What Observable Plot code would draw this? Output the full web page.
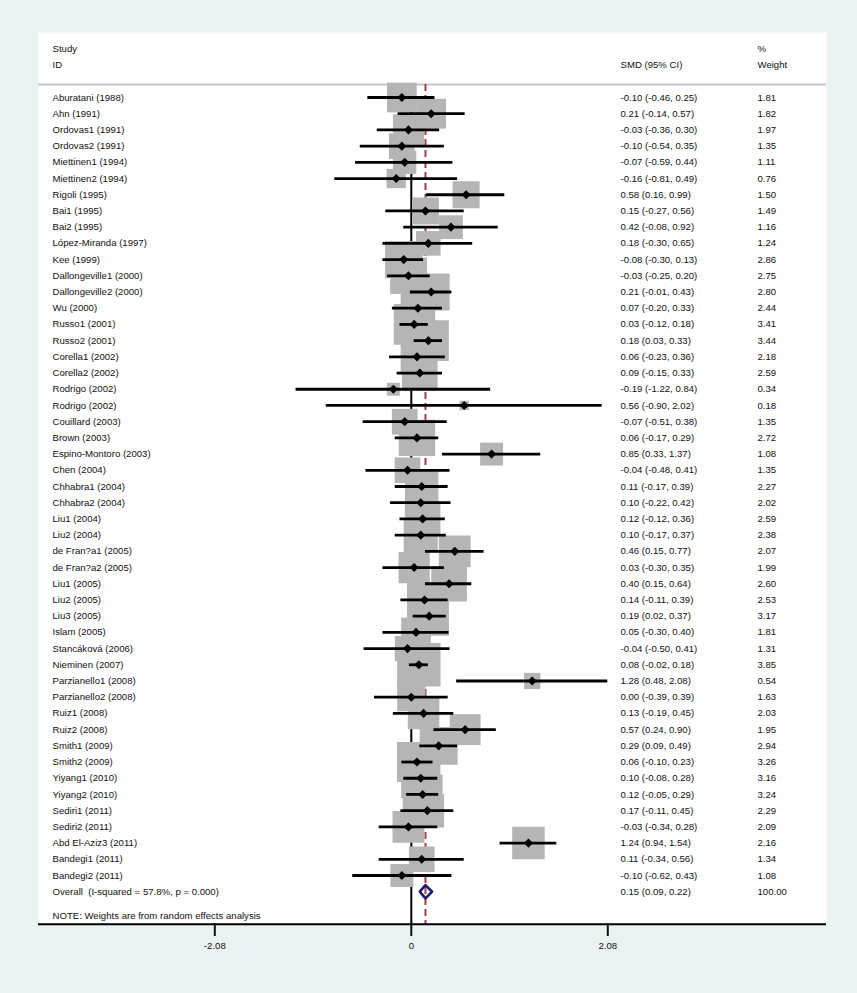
<!DOCTYPE html>
<html>
<head>
<meta charset="utf-8">
<script src="https://cdn.jsdelivr.net/npm/d3@7"></script>
<script src="https://cdn.jsdelivr.net/npm/@observablehq/plot@0.6"></script>
<style>
  html, body { margin: 0; padding: 0; background: #eaf2f2; }
  #chart svg { display: block; }
</style>
</head>
<body>
<div id="chart"></div>
<script>
const studies = [
  "Aburatani (1988)", "Ahn (1991)", "Ordovas1 (1991)", "Ordovas2 (1991)", "Miettinen1 (1994)",
  "Miettinen2 (1994)", "Rigoli (1995)", "Bai1 (1995)", "Bai2 (1995)", "López-Miranda (1997)",
  "Kee (1999)", "Dallongeville1 (2000)", "Dallongeville2 (2000)", "Wu (2000)", "Russo1 (2001)",
  "Russo2 (2001)", "Corella1 (2002)", "Corella2 (2002)", "Rodrigo (2002)", "Rodrigo (2002)",
  "Couillard (2003)", "Brown (2003)", "Espino-Montoro (2003)", "Chen (2004)", "Chhabra1 (2004)",
  "Chhabra2 (2004)", "Liu1 (2004)", "Liu2 (2004)", "de Fran?a1 (2005)", "de Fran?a2 (2005)",
  "Liu1 (2005)", "Liu2 (2005)", "Liu3 (2005)", "Islam (2005)", "Stancáková (2006)",
  "Nieminen (2007)", "Parzianello1 (2008)", "Parzianello2 (2008)", "Ruiz1 (2008)", "Ruiz2 (2008)",
  "Smith1 (2009)", "Smith2 (2009)", "Yiyang1 (2010)", "Yiyang2 (2010)", "Sediri1 (2011)",
  "Sediri2 (2011)", "Abd El-Aziz3 (2011)", "Bandegi1 (2011)", "Bandegi2 (2011)"
];
const smd = [
  -0.10, 0.21, -0.03, -0.10, -0.07, -0.16, 0.58, 0.15, 0.42, 0.18,
  -0.08, -0.03, 0.21, 0.07, 0.03, 0.18, 0.06, 0.09, -0.19, 0.56,
  -0.07, 0.06, 0.85, -0.04, 0.11, 0.10, 0.12, 0.10, 0.46, 0.03,
  0.40, 0.14, 0.19, 0.05, -0.04, 0.08, 1.28, 0.00, 0.13, 0.57,
  0.29, 0.06, 0.10, 0.12, 0.17, -0.03, 1.24, 0.11, -0.10
];
const ciLow = [
  -0.46, -0.14, -0.36, -0.54, -0.59, -0.81, 0.16, -0.27, -0.08, -0.30,
  -0.30, -0.25, -0.01, -0.20, -0.12, 0.03, -0.23, -0.15, -1.22, -0.90,
  -0.51, -0.17, 0.33, -0.48, -0.17, -0.22, -0.12, -0.17, 0.15, -0.30,
  0.15, -0.11, 0.02, -0.30, -0.50, -0.02, 0.48, -0.39, -0.19, 0.24,
  0.09, -0.10, -0.08, -0.05, -0.11, -0.34, 0.94, -0.34, -0.62
];
const ciHigh = [
  0.25, 0.57, 0.30, 0.35, 0.44, 0.49, 0.99, 0.56, 0.92, 0.65,
  0.13, 0.20, 0.43, 0.33, 0.18, 0.33, 0.36, 0.33, 0.84, 2.02,
  0.38, 0.29, 1.37, 0.41, 0.39, 0.42, 0.36, 0.37, 0.77, 0.35,
  0.64, 0.39, 0.37, 0.40, 0.41, 0.18, 2.08, 0.39, 0.45, 0.90,
  0.49, 0.23, 0.28, 0.29, 0.45, 0.28, 1.54, 0.56, 0.43
];
const weights = [
  1.81, 1.82, 1.97, 1.35, 1.11, 0.76, 1.50, 1.49, 1.16, 1.24,
  2.86, 2.75, 2.80, 2.44, 3.41, 3.44, 2.18, 2.59, 0.34, 0.18,
  1.35, 2.72, 1.08, 1.35, 2.27, 2.02, 2.59, 2.38, 2.07, 1.99,
  2.60, 2.53, 3.17, 1.81, 1.31, 3.85, 0.54, 1.63, 2.03, 1.95,
  2.94, 3.26, 3.16, 3.24, 2.29, 2.09, 2.16, 1.34, 1.08
];
const overallLabel = "Overall\u00a0 (I-squared = 57.8%, p = 0.000)";
const overallSmd = 0.15, overallLow = 0.09, overallHigh = 0.22, overallWeight = 100.00;
const headerStudy = ["Study", "ID"];
const headerEst = ["", "SMD (95% CI)"];
const headerWeight = ["%", "Weight"];
const noteText = "NOTE: Weights are from random effects analysis";
const xTicks = [-2.08, 0, 2.08];

const fmt = v => v.toFixed(2);
const rows = studies.map((s, i) => ({
  i, study: s, est: smd[i], lo: ciLow[i], hi: ciHigh[i], w: weights[i],
  estText: `${fmt(smd[i])} (${fmt(ciLow[i])}, ${fmt(ciHigh[i])})`,
  wText: fmt(weights[i])
}));
const nRows = rows.length;
const overallRow = nRows;
const overall = {
  i: overallRow, study: overallLabel, est: overallSmd, lo: overallLow, hi: overallHigh,
  estText: `${fmt(overallSmd)} (${fmt(overallLow)}, ${fmt(overallHigh)})`,
  wText: fmt(overallWeight)
};
const textRows = [...rows, overall];
const headerRows = headerStudy.map((h, k) => ({row: -3 + k, study: h, est: headerEst[k], w: headerWeight[k]}));
const dh = 0.41;
const diamond = [
  {x: overall.lo, y: overallRow}, {x: overall.est, y: overallRow - dh},
  {x: overall.hi, y: overallRow}, {x: overall.est, y: overallRow + dh},
  {x: overall.lo, y: overallRow}
];
const topRow = -0.8, bottomRow = overallRow + 2;

const FS = 9.6;
const textCol = "#111";

const chart = Plot.plot({
  width: 857,
  height: 993,
  marginLeft: 38,
  marginRight: 31,
  marginTop: 32,
  marginBottom: 70,
  style: {background: "#eaf2f2", fontFamily: "'Liberation Sans', Arial, sans-serif", fontSize: FS + "px", color: "#111"},
  x: {domain: [-2.08, 2.08], range: [214.3, 607.3]},
  y: {domain: [0, nRows - 1], range: [97, 875], axis: null},
  r: {type: "sqrt", domain: [0, 4], range: [0, 24.94]},
  marks: [
    Plot.frame({fill: "white", stroke: "none"}),
    Plot.ruleY([topRow], {stroke: "#c3c3d3", strokeWidth: 2}),
    Plot.ruleX([0], {y1: topRow, y2: bottomRow, stroke: "black", strokeWidth: 2}),
    Plot.ruleX([overallSmd], {y1: topRow, y2: bottomRow, stroke: "#a23c4c", strokeWidth: 2, strokeDasharray: "7,4"}),
    Plot.dot(rows, {x: "est", y: "i", r: "w", symbol: "square", fill: "#b5b5b5"}),
    Plot.ruleY(rows, {y: "i", x1: "lo", x2: "hi", stroke: "black", strokeWidth: 2.8}),
    Plot.dot(rows, {x: "est", y: "i", r: 4.1, symbol: "diamond2", fill: "black"}),
    Plot.line(diamond, {x: "x", y: "y", stroke: "#1b1b70", strokeWidth: 2.6, fill: "none"}),
    Plot.ruleY([bottomRow], {stroke: "black", strokeWidth: 2}),
    Plot.axisX({ticks: xTicks, tickFormat: d => d === 0 ? "0" : d.toFixed(2), tickSize: 13, tickPadding: 6, strokeWidth: 2, fontSize: FS, anchor: "bottom", fill: textCol}),
    Plot.text(textRows, {y: "i", text: "study", frameAnchor: "left", dx: 14, textAnchor: "start", fill: textCol, fontSize: FS}),
    Plot.text(textRows, {y: "i", text: "estText", frameAnchor: "left", dx: 582, textAnchor: "start", fill: textCol, fontSize: FS}),
    Plot.text(textRows, {y: "i", text: "wText", frameAnchor: "left", dx: 719, textAnchor: "start", fill: textCol, fontSize: FS}),
    Plot.text(headerRows, {y: "row", text: "study", frameAnchor: "left", dx: 14, textAnchor: "start", fill: textCol, fontSize: FS}),
    Plot.text(headerRows, {y: "row", text: "est", frameAnchor: "left", dx: 582, textAnchor: "start", fill: textCol, fontSize: FS}),
    Plot.text(headerRows, {y: "row", text: "w", frameAnchor: "left", dx: 719, textAnchor: "start", fill: textCol, fontSize: FS}),
    Plot.text([noteText], {y: [overallRow + 1.5], text: d => d, frameAnchor: "left", dx: 14, textAnchor: "start", fill: textCol, fontSize: FS})
  ]
});
document.getElementById("chart").appendChild(chart);
</script>
</body>
</html>
